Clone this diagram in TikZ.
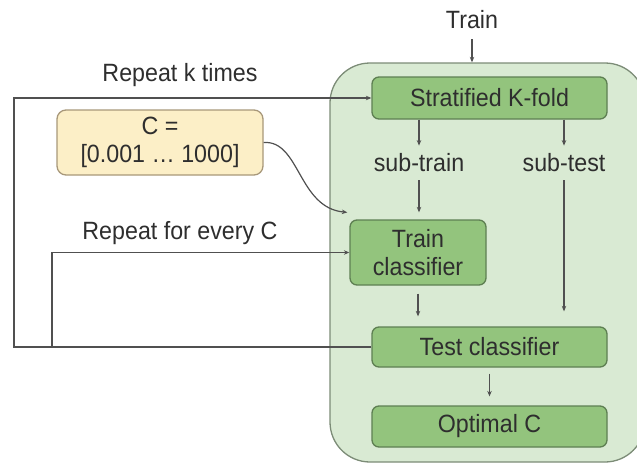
\documentclass[tikz,border=0pt]{standalone}
\usepackage{fontspec}
\setmainfont[FakeStretch=0.93]{Liberation Sans}
\usetikzlibrary{arrows.meta}

\definecolor{panelfill}{HTML}{D9EAD3}
\definecolor{panelline}{HTML}{7C8C77}
\definecolor{stepfill}{HTML}{93C47D}
\definecolor{stepline}{HTML}{5E7F52}
\definecolor{paramfill}{HTML}{FCEFC7}
\definecolor{paramline}{HTML}{A8987A}
\definecolor{inkgray}{HTML}{2E2E2E}
\definecolor{wiregray}{HTML}{505050}

\tikzset{
  stepbox/.style={draw=stepline, fill=stepfill, line width=1.3pt,
    rounded corners=7pt, inner sep=0pt, align=center, text=inkgray},
  parambox/.style={draw=paramline, fill=paramfill, line width=1.3pt,
    rounded corners=9pt, inner sep=0pt, align=center, text=inkgray},
  caption/.style={inner sep=0pt, text=inkgray},
  wire/.style={draw=wiregray, line width=1.2pt},
  arr/.style={wire, -{Stealth[length=5.5pt,width=4.5pt]}},
}

\begin{document}
\begin{tikzpicture}[x=1pt, y=-1pt, font=\fontsize{25}{28}\selectfont]
  \useasboundingbox (0,0) rectangle (637,463);
  \clip (0,0) rectangle (637,463);

  % cross-validation panel
  \node[draw=panelline, fill=panelfill, line width=1.3pt, rounded corners=40pt,
        minimum width=315pt, minimum height=399pt, inner sep=0pt]
        (cv) at (487.5,262.5) {};

  % labels
  \node[caption] (train) at (472,20) {Train};
  \node[caption] (rk) at (180,75) {Repeat k times};
  \node[caption] (rc) at (180,233) {Repeat for every C};
  \node[caption] (subtrain) at (419,163) {sub-train};
  \node[caption] (subtest) at (564,163) {sub-test};

  % steps
  \node[stepbox, minimum width=235pt, minimum height=42pt] (strat) at (489.5,98) {Stratified K-fold};
  \node[stepbox, minimum width=136pt, minimum height=65pt] (trainclf) at (418,252.5) {Train\\classifier};
  \node[stepbox, minimum width=235pt, minimum height=40pt] (testclf) at (489.5,347) {Test classifier};
  \node[stepbox, minimum width=235pt, minimum height=41pt] (optc) at (489.5,426.5) {Optimal C};
  \node[parambox, minimum width=206pt, minimum height=65pt] (cbox) at (160,142.5) {C =\\{[}0.001 … 1000{]}};

  % loop corners
  \coordinate (outer) at (14,347);
  \coordinate (inner) at (52,347);

  % flow
  \draw[arr] ([yshift=-10pt]train.south) -- (train.south |- cv.north);
  \draw[arr] (strat.south -| subtrain) -- ([yshift=8pt]subtrain.north);
  \draw[arr] (strat.south -| subtest) -- ([yshift=8pt]subtest.north);
  \draw[arr] ([yshift=-8pt]subtrain.south) -- ([yshift=7pt]trainclf.north -| subtrain);
  \draw[arr] ([yshift=-8pt]subtest.south) -- ([yshift=15pt]testclf.north -| subtest);
  \draw[arr] ([yshift=-8pt]trainclf.south) -- ([yshift=10pt]testclf.north -| trainclf);
  \draw[arr] ([yshift=-6pt]testclf.south) -- ([yshift=9pt]optc.north);
  \draw[arr] (cbox.east) .. controls (300,140) and (298,208) .. ([shift={(-2pt,7pt)}]trainclf.north west);

  % repeat loops
  \draw[arr] (testclf.west) -- (outer) |- (strat.west);
  \draw[arr] (inner) |- (trainclf.west);
\end{tikzpicture}
\end{document}
